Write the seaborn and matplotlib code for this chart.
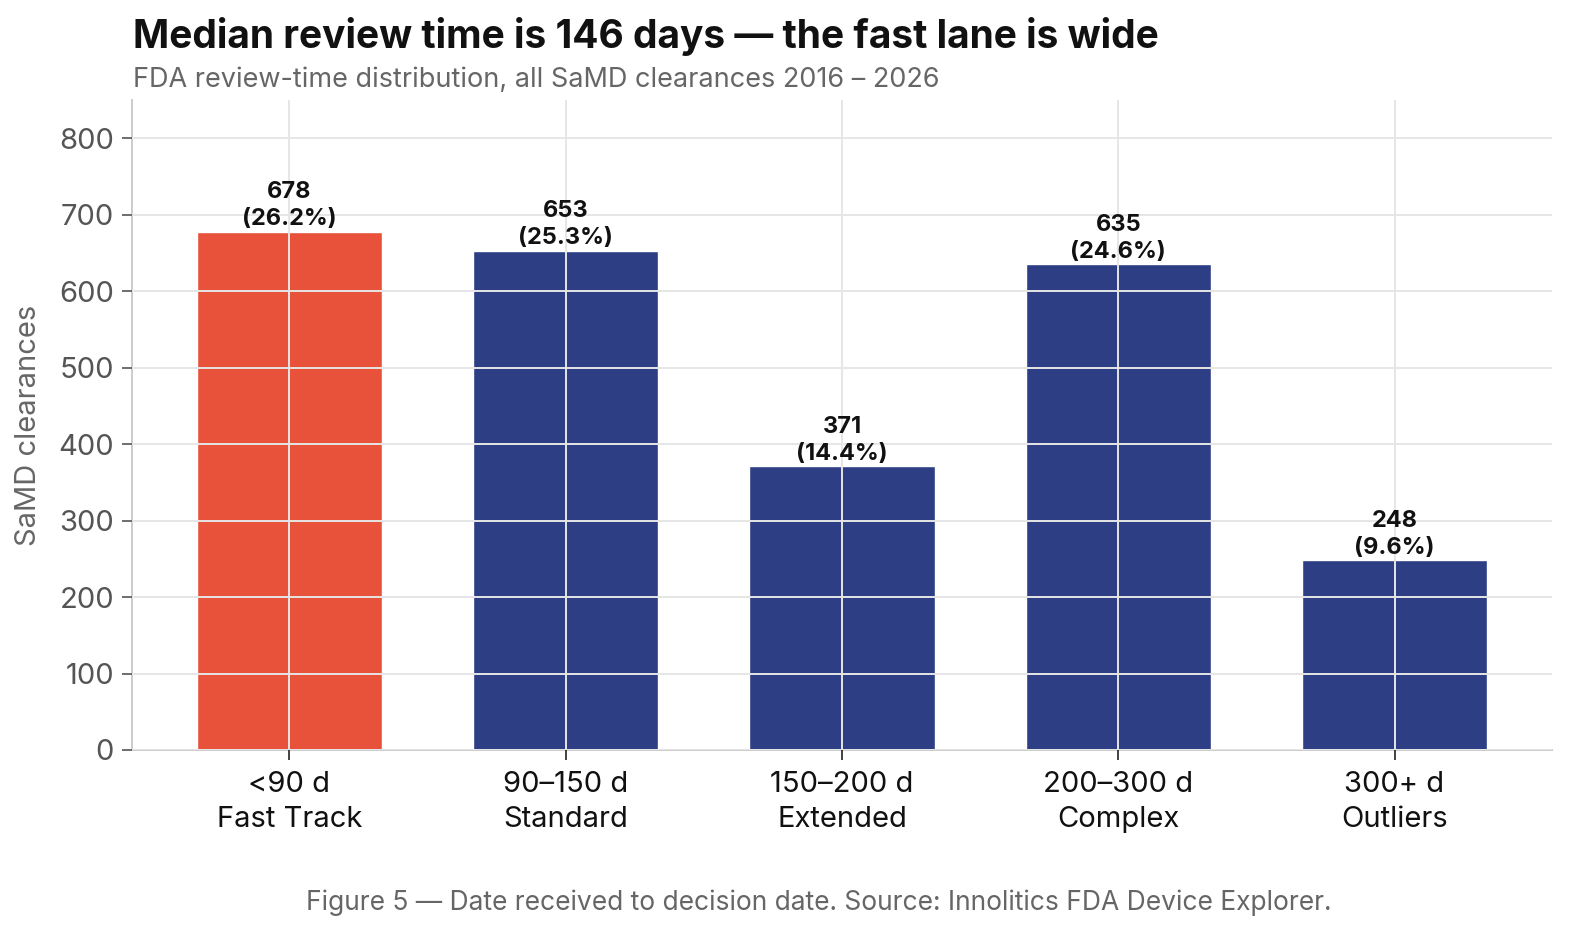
import pandas as pd
import matplotlib
matplotlib.use("Agg")
import matplotlib.pyplot as plt
import seaborn as sns

# data
bins = ["<90 d\nFast Track", "90–150 d\nStandard", "150–200 d\nExtended",
        "200–300 d\nComplex", "300+ d\nOutliers"]
counts = [678, 653, 371, 635, 248]
shares = [26.2, 25.3, 14.4, 24.6, 9.6]
bar_colors = ["#E8523A", "#2D3E85", "#2D3E85", "#2D3E85", "#2D3E85"]

sns.set_style("white")
plt.rcParams["font.family"] = ["Inter", "DejaVu Sans"]

df = pd.DataFrame({"bin": bins, "count": counts})

fig = plt.figure(figsize=(15.74, 9.39), dpi=100)
ax = fig.add_axes([132 / 1574, 1 - 750 / 939, (1552 - 132) / 1574, 650 / 939])

sns.barplot(data=df, x="bin", y="count", hue="bin", palette=bar_colors,
            legend=False, width=0.67, saturation=1, ax=ax)

for i, (c, s) in enumerate(zip(counts, shares)):
    ax.text(i, c + 2, f"{c}\n({s}%)", ha="center", va="bottom",
            fontsize=17, fontweight="bold", color="#111111", linespacing=1.3)

ax.set_ylim(0, 850)
ax.set_xlim(-0.57, 4.57)
ax.set_yticks(range(0, 900, 100))
ax.set_axisbelow(False)
ax.grid(True, color="#e6e6e6", linewidth=1.4)

for side in ["top", "right"]:
    ax.spines[side].set_visible(False)
for side in ["left", "bottom"]:
    ax.spines[side].set_color("#cccccc")
    ax.spines[side].set_linewidth(1.4)

ax.tick_params(axis="y", labelsize=21, labelcolor="#555555", color="#555555",
               length=7, width=1.2, left=True, pad=6)
ax.tick_params(axis="x", labelsize=21, labelcolor="#111111", color="#222222",
               length=7, width=1.2, bottom=True, pad=8)
for lbl in ax.get_xticklabels():
    lbl.set_linespacing(1.4)
ax.set_xlabel("")
ax.set_ylabel("SaMD clearances", fontsize=21, color="#666666", labelpad=12)

fig.text(133 / 1574, 1 - 36 / 939, "Median review time is 146 days — the fast lane is wide",
         fontsize=28, fontweight="bold", color="#111111", va="center", ha="left")
fig.text(133 / 1574, 1 - 80 / 939, "FDA review-time distribution, all SaMD clearances 2016 – 2026",
         fontsize=19.5, color="#666666", va="center", ha="left")
fig.text(819 / 1574, 1 - 903 / 939,
         "Figure 5 — Date received to decision date. Source: Innolitics FDA Device Explorer.",
         fontsize=19, color="#666666", va="center", ha="center")

fig.savefig("out.png", dpi=100)
